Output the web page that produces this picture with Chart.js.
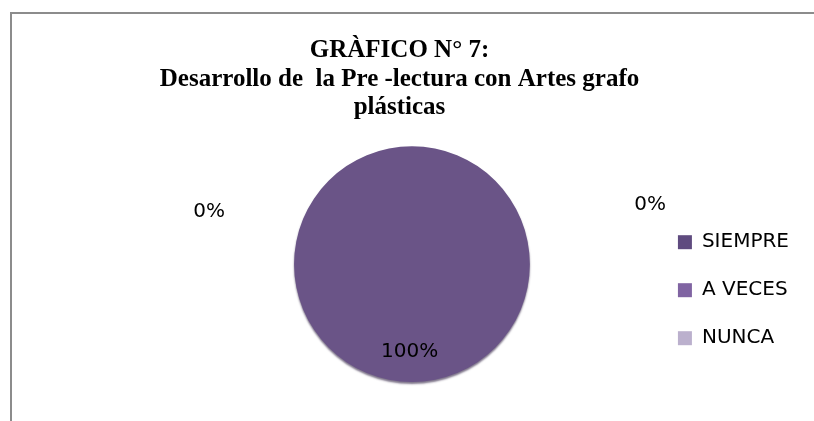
<!DOCTYPE html>
<html lang="es">
<head>
    <meta charset="UTF-8">
    <title>Gráfico N° 7</title>
    <script src="https://cdn.jsdelivr.net/npm/chart.js@4.4.1/dist/chart.umd.min.js"></script>
    <style>
        body {
            margin: 0;
            background: #fff;
            overflow: hidden;
        }
        #frame {
            position: absolute;
            left: 10px;
            top: 12px;
            width: 810px;
            height: 420px;
            border-left: 2px solid #8c8c8c;
            border-top: 2px solid #8c8c8c;
        }
        #chartContainer {
            position: absolute;
            left: 0;
            top: 0;
            width: 814px;
            height: 421px;
        }
    </style>
</head>
<body>
    <div id="frame"></div>
    <div id="chartContainer">
        <canvas id="myChart"></canvas>
    </div>

    <script>
        const titleLines = ['GRÀFICO N° 7:', 'Desarrollo de  la Pre -lectura con Artes grafo', 'plásticas'];
        const categories = ['SIEMPRE', 'A VECES', 'NUNCA'];
        const values = [0, 100, 0]; // porcentajes

        const sliceColors = ['#5f4b7f', '#6a5487', '#bbb0cd'];
        const legendColors = ['#5f4b7f', '#8064a2', '#bbb0cd'];
        const labelFont = '"DejaVu Sans", sans-serif';

        // etiquetas de porcentaje, ubicadas como en Excel (fuera para 0%, dentro para 100%)
        const pctLabels = {
            id: 'pctLabels',
            afterDatasetsDraw(chart, args, opts) {
                const ctx = chart.ctx;
                const meta = chart.getDatasetMeta(0);
                const data = chart.data.datasets[0].data;
                const total = data.reduce((s, v) => s + v, 0);
                ctx.save();
                ctx.font = opts.font;
                ctx.fillStyle = '#000';
                ctx.textAlign = 'center';
                ctx.textBaseline = 'middle';
                meta.data.forEach((arc, i) => {
                    const r = arc.outerRadius;
                    const off = opts.offsets[i];
                    const txt = Math.round(data[i] / total * 100) + '%';
                    ctx.fillText(txt, arc.x + off[0] * r, arc.y + off[1] * r);
                });
                ctx.restore();
            }
        };

        // el título va centrado en todo el ancho, la torta algo más a la derecha
        const pieArea = {
            id: 'pieArea',
            afterLayout(chart, args, opts) {
                chart.chartArea.left += opts.leftInset;
                chart.chartArea.width = chart.chartArea.right - chart.chartArea.left;
            }
        };

        const pieShadow = {
            id: 'pieShadow',
            beforeDatasetDraw(chart) {
                const ctx = chart.ctx;
                ctx.save();
                ctx.shadowColor = 'rgba(40, 25, 60, 0.6)';
                ctx.shadowBlur = 2;
                ctx.shadowOffsetY = 2;
            },
            afterDatasetDraw(chart) {
                chart.ctx.restore();
            }
        };

        const ctx = document.getElementById('myChart').getContext('2d');
        const chart = new Chart(ctx, {
            type: 'pie',
            data: {
                labels: categories,
                datasets: [{
                    data: values,
                    backgroundColor: sliceColors,
                    borderWidth: 0
                }]
            },
            plugins: [pieArea, pieShadow, pctLabels],
            options: {
                responsive: true,
                maintainAspectRatio: false,
                animation: false,
                layout: {
                    padding: { left: 0, right: 15, top: 0, bottom: 39 }
                },
                plugins: {
                    title: {
                        display: true,
                        text: titleLines,
                        color: '#000',
                        font: { family: '"Liberation Serif", "Times New Roman", serif', size: 25, weight: 'bold', lineHeight: 1.15 },
                        padding: { top: 36, bottom: 24 }
                    },
                    legend: {
                        position: 'right',
                        title: { display: true, text: '', padding: 92 },
                        labels: {
                            color: '#000',
                            font: { family: labelFont, size: 20 },
                            boxWidth: 14,
                            boxHeight: 14,
                            padding: 28,
                            generateLabels(c) {
                                return c.data.labels.map((l, i) => ({
                                    text: l,
                                    fillStyle: legendColors[i],
                                    strokeStyle: legendColors[i],
                                    fontColor: '#000',
                                    lineWidth: 0,
                                    index: i
                                }));
                            }
                        }
                    },
                    tooltip: { enabled: false },
                    pieArea: { leftInset: 174 },
                    pctLabels: {
                        font: '20px ' + labelFont,
                        offsets: [[-1.72, -0.44], [-0.02, 0.74], [2.02, -0.5]]
                    }
                }
            }
        });
    </script>
</body>
</html>
